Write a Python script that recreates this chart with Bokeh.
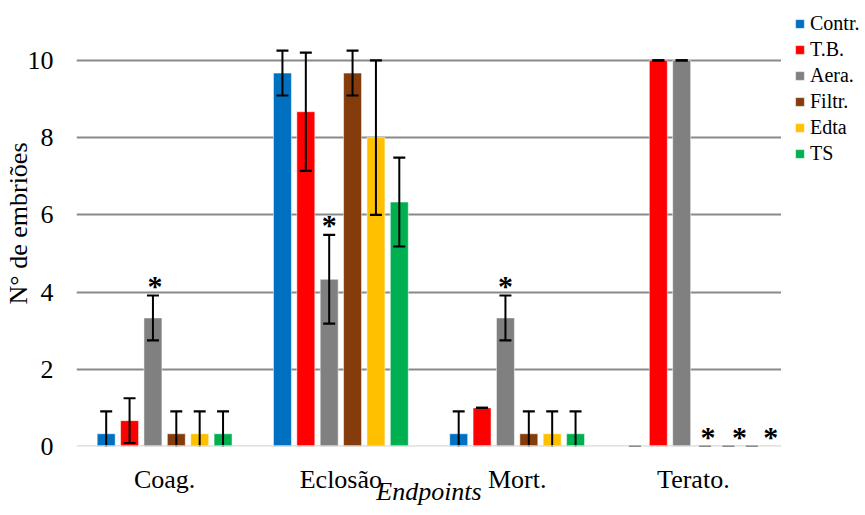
from bokeh.plotting import figure
from bokeh.layouts import row
from bokeh.models import (Range1d, FixedTicker, Legend, LegendItem,
                          ColumnDataSource, Span)
from bokeh.core.properties import value
from bokeh.embed import file_html
from bokeh.resources import INLINE

# ---------------- data ----------------
categories = ["Coag.", "Eclosão", "Mort.", "Terato."]
series = ["Contr.", "T.B.", "Aera.", "Filtr.", "Edta", "TS"]
colors = ["#0070C0", "#FF0000", "#808080", "#843C0C", "#FFC000", "#00B050"]

contr = [0.33, 9.67, 0.33, 0.0]
tb = [0.67, 8.67, 1.0, 10.0]
aera = [3.33, 4.33, 3.33, 10.0]
filtr = [0.33, 9.67, 0.33, 0.0]
edta = [0.33, 8.0, 0.33, 0.0]
ts = [0.33, 6.33, 0.33, 0.0]

contr_err = [0.58, 0.58, 0.58, 0.0]
tb_err = [0.58, 1.53, 0.0, 0.0]
aera_err = [0.58, 1.15, 0.58, 0.0]
filtr_err = [0.58, 0.58, 0.58, 0.0]
edta_err = [0.58, 2.0, 0.58, 0.0]
ts_err = [0.58, 1.15, 0.58, 0.0]

y_ticks = [0, 2, 4, 6, 8, 10]
# significance marks (category, series)
asterisks = [("Coag.", "Aera."), ("Eclosão", "Aera."), ("Mort.", "Aera."),
             ("Terato.", "Filtr."), ("Terato.", "Edta"), ("Terato.", "TS")]
# small horizontal nudges of the asterisk labels (pixels)
asterisk_nudge = [2, 0, 0, 3, 11, 19]

values = [contr, tb, aera, filtr, edta, ts]
errors = [contr_err, tb_err, aera_err, filtr_err, edta_err, ts_err]

FONT = "Liberation Serif"

n = len(categories)
xpos = list(range(n))

p = figure(width=781, height=515, output_backend="svg", toolbar_location=None,
           x_range=Range1d(-0.5, n - 0.5), y_range=Range1d(0, 11.55),
           min_border_left=75, min_border_right=0, min_border_top=0,
           min_border_bottom=69)
p.outline_line_color = None
p.background_fill_color = "white"
p.border_fill_color = "white"

# ---------------- legend panel (separate narrow figure at the right) ----------------
lg = figure(width=84, height=515, output_backend="svg", toolbar_location=None,
            x_range=Range1d(-100, -99), y_range=Range1d(0, 1),
            x_axis_type=None, y_axis_type=None,
            min_border_left=0, min_border_right=0, min_border_top=0,
            min_border_bottom=0)
lg.outline_line_color = None
lg.xgrid.visible = False
lg.ygrid.visible = False
lg.background_fill_color = "white"
lg.border_fill_color = "white"

step = 0.1326
bar_w = 0.102
cap = 0.034

items = []
for j, (name, col, vals, errs) in enumerate(zip(series, colors, values, errors)):
    off = (j - 2.5) * step
    xs = [x + off for x in xpos]
    src = ColumnDataSource(dict(
        x=xs, xl=[x - cap for x in xs], xr=[x + cap for x in xs], val=vals,
        up=[v + e for v, e in zip(vals, errs)],
        lo=[v - e for v, e in zip(vals, errs)],
    ))
    p.vbar(x="x", top="val", width=bar_w, source=src, fill_color=col,
           line_color="white", line_alpha=0.5, line_width=1)
    p.segment(x0="x", y0="lo", x1="x", y1="up", source=src,
              line_color="black", line_width=2)
    for key in ("up", "lo"):
        p.segment(x0="xl", y0=key, x1="xr", y1=key, source=src,
                  line_color="black", line_width=2.2)
    # same series drawn (out of view) in the legend figure, for its legend swatch
    r = lg.vbar(x="x", top="val", width=bar_w, source=src, fill_color=col,
                line_color="white", line_alpha=0.5, line_width=1)
    items.append(LegendItem(label=name, renderers=[r]))

# asterisks
ast_x, ast_y = [], []
for (c, s) in asterisks:
    i = categories.index(c)
    j = series.index(s)
    ast_x.append(xpos[i] + (j - 2.5) * step)
    ast_y.append(values[j][i] + errors[j][i])
asrc = ColumnDataSource(dict(x=ast_x, y=ast_y, t=["*"] * len(ast_x),
                             dx=asterisk_nudge))
p.text(x="x", y="y", text="t", source=asrc, x_offset="dx",
       text_font=value(FONT), text_font_size="30px", text_font_style="bold",
       text_align="center", text_baseline="middle", y_offset=-10,
       text_color="black")

# baseline (value axis zero line)
p.add_layout(Span(location=y_ticks[0], dimension="width", line_color="#d9d9d9",
                  line_width=2.6, level="overlay"))

# grid / axes
p.xgrid.grid_line_color = None
p.ygrid.ticker = FixedTicker(ticks=y_ticks[1:])
p.ygrid.grid_line_color = "#898989"
p.ygrid.grid_line_width = 2
p.yaxis.ticker = FixedTicker(ticks=y_ticks)
p.xaxis.ticker = FixedTicker(ticks=xpos)
p.xaxis.major_label_overrides = {i: c for i, c in enumerate(categories)}

p.yaxis.axis_label = "N° de embriões"
p.xaxis.axis_label = "Endpoints"

for ax in (p.xaxis, p.yaxis):
    ax.axis_line_color = None
    ax.major_tick_line_color = None
    ax.minor_tick_line_color = None
    ax.major_tick_out = 0
    ax.major_tick_in = 0
    ax.major_label_text_font = FONT
    ax.major_label_text_font_size = "26px"
    ax.major_label_text_color = "black"
    ax.axis_label_text_font = FONT
    ax.axis_label_text_font_size = "26px"
    ax.axis_label_text_color = "black"

p.yaxis.axis_label_text_font_style = "normal"
p.yaxis.major_label_standoff = 23
p.yaxis.axis_label_standoff = -8

p.xaxis.axis_label_text_font_style = "italic"
p.xaxis.major_label_standoff = 18
p.xaxis.axis_label_standoff = -20

legend = Legend(items=items, location=(13, 280), orientation="vertical",
                label_text_font=FONT, label_text_font_size="20px",
                label_text_color="black",
                glyph_width=11, glyph_height=11, label_standoff=5,
                label_height=26, spacing=0, padding=0, margin=0,
                border_line_alpha=0, background_fill_alpha=0)
lg.add_layout(legend, "center")

layout = row(p, lg, spacing=0)
open("out.html", "w").write(file_html(layout, INLINE))
